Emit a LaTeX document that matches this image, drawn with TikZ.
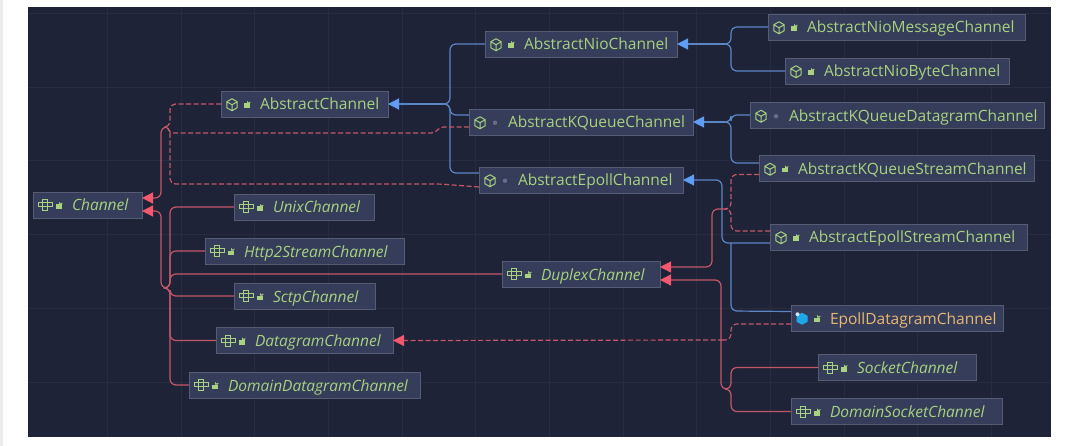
\documentclass[tikz,border=0pt]{standalone}
\usepackage{fontspec}
\setmainfont{Open Sans}
\usetikzlibrary{arrows.meta}

\definecolor{canvas}{HTML}{1F2337}
\definecolor{gridline}{HTML}{282C40}
\definecolor{boxfill}{HTML}{353D5A}
\definecolor{boxline}{HTML}{565C74}
\definecolor{namegreen}{HTML}{A8D27F}
\definecolor{nameorange}{HTML}{E9B872}
\definecolor{extblue}{HTML}{5B86C6}
\definecolor{tipblue}{HTML}{5F9CF4}
\definecolor{implred}{HTML}{C4566A}
\definecolor{tipred}{HTML}{F5586C}
\definecolor{dotgray}{HTML}{686E86}
\definecolor{springblue}{HTML}{1EA8EA}

% small marks at the left end of a class box, measured from the start of the text baseline
\newcommand{\cubemark}{%
  \draw[namegreen, line width=1pt, line join=round] (3,-11.25) -- (8.2,-8.25) -- (8.2,-2.25) -- (3,.75)
    -- (-2.2,-2.25) -- (-2.2,-8.25) -- cycle (-2.2,-8.25) -- (3,-5.25) -- (8.2,-8.25) (3,-5.25) -- (3,.75);}
\newcommand{\springmark}{%
  \fill[springblue] (3,-11.25) -- (8.5,-8.25) -- (8.5,-2.25) -- (3,.75) -- (-2.5,-2.25) -- (-2.5,-8.25) -- cycle;
  \fill[white!75!springblue] (-1.5,-9.75) circle (2);}
\newcommand{\ifacemark}{%
  \draw[namegreen, line width=0.9pt] (-3,-8.25) rectangle (11,-4.25) (1.5,-8.25) -- (1.5,-4.25) (6.5,-8.25) -- (6.5,-4.25)
    (1.5,-11.25) rectangle (6.5,-8.25) (1.5,-4.25) rectangle (6.5,-0.25);}
\newcommand{\lockmark}{%
  \fill[namegreen] (15,-6.5) rectangle (20.5,-2);
  \draw[namegreen, line width=0.9pt] (18.5,-6.5) -- (18.5,-8) arc[start angle=180, end angle=0, radius=1.4];}
\newcommand{\dotmark}{\fill[dotgray] (18,-5.25) circle (2.2);}

\begin{document}
\begin{tikzpicture}[
    x=1pt, y=-1pt,
    box/.style={draw=boxline, fill=boxfill, line width=0.8pt, anchor=west, outer sep=0pt,
                inner xsep=8pt, inner ysep=4pt, text width=#1, align=left,
                text height=15pt, text depth=3pt, text=namegreen,
                font=\fontsize{15.5}{17}\selectfont,
                execute at begin node={\hyphenpenalty=10000\hspace*{31pt}}},
    classbox/.style={box=#1, path picture={\cubemark\lockmark}},
    plainbox/.style={box=#1, path picture={\cubemark\dotmark}},
    ifacebox/.style={box=#1, font=\fontsize{15.5}{17}\selectfont\itshape, path picture={\ifacemark\lockmark}},
    springbox/.style={box=#1, text=nameorange, path picture={\springmark\lockmark}},
    extends/.style={draw=extblue, line width=1.2pt, rounded corners=6pt},
    extendstip/.style={extends, -{Triangle[length=11pt, width=11pt, color=tipblue]}},
    impl/.style={draw=implred, line width=1.2pt, rounded corners=6pt},
    impltip/.style={impl, -{Triangle[length=11pt, width=11pt, color=tipred]}},
    implied/.style={dash pattern=on 5pt off 2.5pt},
]

    \useasboundingbox (0,0) rectangle (1067,446);
    \fill[black!8] (0,0) rectangle (3,446);
    \fill[canvas] (28,7) rectangle (1051,437);
    \foreach \gx in {107,181,254.6,328,402,475.6,549,623,696,770,844,917,991}
        \draw[gridline, line width=0.6pt] (\gx,7) -- (\gx,437);
    \foreach \gy in {13,87,160,234,308,382}
        \draw[gridline, line width=0.6pt] (28,\gy) -- (1051,\gy);

    % left column
    \node[ifacebox=93pt] (channel) at (33,205) {Channel};
    \node[classbox=151pt] (abstractchannel) at (221,104) {AbstractChannel};
    \node[ifacebox=124pt] (unix) at (234,207) {UnixChannel};
    \node[ifacebox=183pt] (http2) at (205,251) {Http2StreamChannel};
    \node[ifacebox=125pt] (sctp) at (234,296) {SctpChannel};
    \node[ifacebox=161pt] (datagram) at (216,340.5) {DatagramChannel};
    \node[ifacebox=215pt] (domaindatagram) at (189,385) {DomainDatagramChannel};

    % middle column
    \node[classbox=176pt] (nio) at (485,44) {AbstractNioChannel};
    \node[plainbox=208pt] (kqueue) at (469,122) {AbstractKQueueChannel};
    \node[plainbox=188pt] (epoll) at (479,180) {AbstractEpollChannel};
    \node[ifacebox=142pt] (duplex) at (502,274) {DuplexChannel};

    % right column
    \node[classbox=241pt] (niomessage) at (768,27) {AbstractNioMessageChannel};
    \node[classbox=208pt] (niobyte) at (785,71) {AbstractNioByteChannel};
    \node[plainbox=278pt] (kqueuedatagram) at (750,115.5) {AbstractKQueueDatagramChannel};
    \node[classbox=259pt] (kqueuestream) at (759,168.5) {AbstractKQueueStreamChannel};
    \node[classbox=241pt] (epollstream) at (770,237) {AbstractEpollStreamChannel};
    \node[springbox=196pt] (epolldatagram) at (791,318) {EpollDatagramChannel};
    \node[ifacebox=142pt] (socket) at (818,367.5) {SocketChannel};
    \node[ifacebox=195pt] (domainsocket) at (791,411.5) {DomainSocketChannel};

    \coordinate (jabstract) at (443,104);
    \coordinate (jnio) at (725,44);
    \coordinate (jkqueue) at (725,122);
    \coordinate (jepoll) at (722,236);
    \coordinate (jdeclared) at (167,127);
    \coordinate (jdirect) at (166,288);
    \coordinate (jduplextop) at (727,209);
    \coordinate (jduplexlow) at (727,389);
    \coordinate (jdatagram) at (723,340);

    % blue class inheritance
    \draw[extendstip] (jabstract) -- (abstractchannel);
    \draw[extends] (nio.west) -- (450,44) -- (450,104) -- (jabstract);
    \draw[extends] ([yshift=7pt]kqueue.west) -- (450,115) -- (450,104) -- (jabstract);
    \draw[extends] ([yshift=7pt]epoll.west) -- (450,173) -- (450,104) -- (jabstract);
    \draw[extendstip] (jnio) -- (nio);
    \draw[extends] (niomessage.west) -- (731,27) -- (731,44) -- (jnio);
    \draw[extends] (niobyte.west) -- (731,71) -- (731,44) -- (jnio);
    \draw[extendstip] (jkqueue) -- (kqueue);
    \draw[extends] ([yshift=0.5pt]kqueuedatagram.west) -- (731,115) -- (731,122) -- (jkqueue);
    \draw[extends] ([yshift=5.5pt]kqueuestream.west) -- (731,163) -- (731,122) -- (jkqueue);
    \draw[extendstip] (jepoll) -- (722,180) -- (epoll.east);
    \draw[extends] ([yshift=-6pt]epollstream.west) -- (722,243) -- (jepoll);
    \draw[extends] ([yshift=6.5pt]epolldatagram.west) -- (731,311) -- (731,243);

    % red interface edges into Channel
    \draw[impltip] (jdeclared) -- (161,127) -- (161,198) -- ([yshift=7pt]channel.east);
    \draw[impl, implied] (abstractchannel.west) -- (170,104) -- (170,127) -- (jdeclared);
    \draw[impl, implied, rounded corners=3pt] ([yshift=-5pt]kqueue.west) -- (441,127) -- (434,133) -- (170,133) -- (jdeclared);
    \draw[impl, implied] ([yshift=-7pt]epoll.west) -- (440,184) -- (170,184) -- (170,127) -- (jdeclared);
    \draw[impltip] (jdirect) -- (161,288) -- (161,211) -- ([yshift=-6pt]channel.east);
    \draw[impl] (unix.west) -- (170,207) -- (170,288) -- (jdirect);
    \draw[impl] (http2.west) -- (170,251) -- (170,288) -- (jdirect);
    \draw[impl] (duplex.west) -- (170,274) -- (170,288) -- (jdirect);
    \draw[impl] (sctp.west) -- (170,296) -- (170,288) -- (jdirect);
    \draw[impl] (datagram.west) -- (170,340.5) -- (170,288) -- (jdirect);
    \draw[impl] (domaindatagram.west) -- (170,385) -- (170,288) -- (jdirect);

    % red interface edges into DuplexChannel and DatagramChannel
    \draw[impltip] (jduplextop) -- (712,209) -- (712,267) -- ([yshift=7pt]duplex.east);
    \draw[impl, implied] ([yshift=-6pt]kqueuestream.west) -- (731,174.5) -- (731,209) -- (jduplextop);
    \draw[impl, implied] ([yshift=6pt]epollstream.west) -- (731,231) -- (731,209) -- (jduplextop);
    \draw[impltip] (jduplexlow) -- (721,389) -- (721,280) -- ([yshift=-6pt]duplex.east);
    \draw[impl] (socket.west) -- (731,367.5) -- (731,389) -- (jduplexlow);
    \draw[impl] (domainsocket.west) -- (731,411.5) -- (731,389) -- (jduplexlow);
    \draw[impl, implied] ([yshift=-6pt]epolldatagram.west) -- (731,324) -- (731,340) -- (jdatagram);
    \draw[impltip, implied] (jdatagram) -- (datagram.east);

\end{tikzpicture}
\end{document}
